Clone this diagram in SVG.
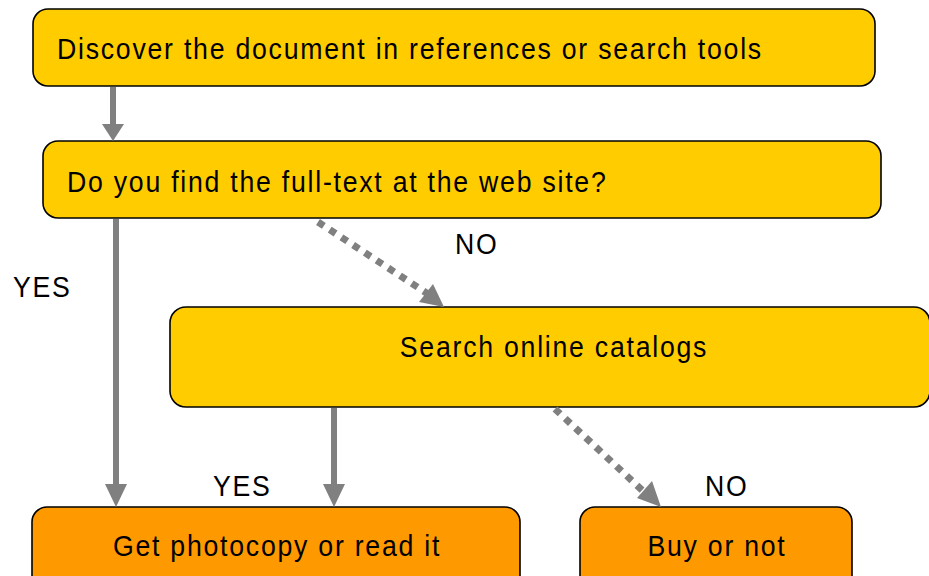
<svg xmlns="http://www.w3.org/2000/svg" width="929" height="576" viewBox="0 0 929 576">
<style>
.box{stroke:#000;stroke-width:1.6}
.y{fill:#FFCC00}.o{fill:#FF9900}
text{font-family:"Liberation Sans",Arial,sans-serif;font-size:29px;letter-spacing:1.9px;fill:#000}
.c{text-anchor:middle}
.ln{stroke:#808080;stroke-width:6;fill:none}
.dot{stroke:#808080;stroke-width:7;fill:none;stroke-dasharray:7 7}
.hd{fill:#808080}
</style>
<rect width="929" height="576" fill="#fff"/>
<g id="n1"><rect class="box y" x="33" y="9" width="842" height="77" rx="15"/><text transform="translate(57,59) scale(0.92,1)">Discover the document in references or search tools</text></g>
<g id="n2"><rect class="box y" x="43" y="141" width="838" height="77" rx="15"/><text transform="translate(67,192) scale(0.92,1)">Do you find the full-text at the web site?</text></g>
<g id="n3"><rect class="box y" x="170" y="307" width="760" height="100" rx="16"/><text class="c" transform="translate(554,357) scale(0.92,1)">Search online catalogs</text></g>
<g id="n4"><rect class="box o" x="32" y="507" width="488" height="90" rx="15"/><text class="c" transform="translate(277,556) scale(0.92,1)">Get photocopy or read it</text></g>
<g id="n5"><rect class="box o" x="580" y="507" width="272" height="90" rx="15"/><text class="c" transform="translate(717,556) scale(0.92,1)">Buy or not</text></g>
<g id="connectors">
<line class="ln" x1="113" y1="87" x2="113" y2="125"/><polygon class="hd" points="102,124 124,124 113,141"/>
<line class="ln" x1="116" y1="219" x2="116" y2="485"/><polygon class="hd" points="105,484 127,484 116,507"/>
<line class="ln" x1="334" y1="408" x2="334" y2="485"/><polygon class="hd" points="323,484 345,484 334,507"/>
<line class="dot" x1="318" y1="222" x2="428" y2="294"/><polygon class="hd" points="419,302 433,284 444,307"/>
<line class="dot" x1="555" y1="409" x2="643" y2="491"/><polygon class="hd" points="637,498 652,481 661,507"/>
<text transform="translate(455,254) scale(0.92,1)">NO</text>
<text transform="translate(13,297) scale(0.92,1)">YES</text>
<text transform="translate(213,496) scale(0.92,1)">YES</text>
<text transform="translate(705,496) scale(0.92,1)">NO</text>
</g>
</svg>
